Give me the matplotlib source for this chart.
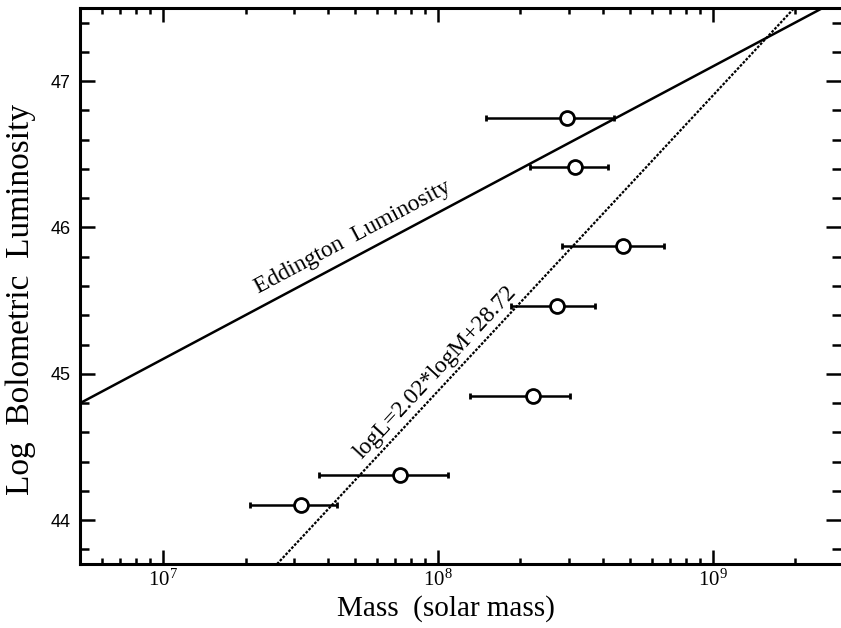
import numpy as np
import matplotlib
matplotlib.use("Agg")
import matplotlib.pyplot as plt
from matplotlib.ticker import LogLocator, MultipleLocator, NullFormatter

plt.rcParams['font.family'] = ['Liberation Serif', 'DejaVu Serif']
plt.rcParams['mathtext.fontset'] = 'stix'

# black hole mass (solar mass) with error-bar ends, and log bolometric luminosity
mass = [3.18e7, 7.30e7, 2.22e8, 2.72e8, 4.73e8, 3.17e8, 2.96e8]
mass_lo = [2.08e7, 3.70e7, 1.31e8, 1.84e8, 2.83e8, 2.16e8, 1.50e8]
mass_hi = [4.30e7, 1.09e8, 3.04e8, 3.72e8, 6.65e8, 4.17e8, 4.37e8]
log_lum = [44.10, 44.31, 44.85, 45.46, 45.87, 46.41, 46.75]

# lines
edd_const = 38.1          # log L_Edd = log M + 38.1
fit_slope, fit_icpt = 2.02, 28.72

xlim = (5e6, 2.93e9)
ylim = (43.7, 47.5)

fig = plt.figure(figsize=(8.41, 6.28), dpi=100)
ax = fig.add_axes([80 / 841, 64 / 628, 761 / 841, 556 / 628])
ax.set_xscale('log')
ax.set_xlim(*xlim)
ax.set_ylim(*ylim)

m = np.array(mass)
xerr = np.array([m - np.array(mass_lo), np.array(mass_hi) - m])
ax.errorbar(m, log_lum, xerr=xerr, fmt='o', ms=10, mfc='white', mec='black',
            mew=2.0, ecolor='black', elinewidth=1.8, capsize=2, capthick=1.8,
            zorder=3)

lm = np.linspace(np.log10(xlim[0]), np.log10(xlim[1]), 200)
ax.plot(10 ** lm, lm + edd_const, color='black', lw=1.8, zorder=2)
ax.plot(10 ** lm, fit_slope * lm + fit_icpt, color='black', lw=1.6,
        linestyle=(0, (1.2, 0.7)), zorder=2)


def screen_angle(slope):
    p0 = ax.transData.transform((1e8, 45.0))
    p1 = ax.transData.transform((1e9, 45.0 + slope))
    return np.degrees(np.arctan2(p1[1] - p0[1], p1[0] - p0[0]))


ax.text(10 ** 7.692, 45.93, 'Eddington  Luminosity', fontsize=17,
        rotation=screen_angle(1.0), rotation_mode='anchor',
        ha='center', va='center')
ax.text(10 ** 7.99, 45.01, 'logL=2.02*logM+28.72', fontsize=17,
        rotation=screen_angle(fit_slope), rotation_mode='anchor',
        ha='center', va='center')

ax.xaxis.set_major_locator(LogLocator(base=10, numticks=10))
ax.xaxis.set_minor_locator(LogLocator(base=10, subs=np.arange(2, 10), numticks=20))
ax.xaxis.set_minor_formatter(NullFormatter())
ax.yaxis.set_major_locator(MultipleLocator(1))
ax.yaxis.set_minor_locator(MultipleLocator(0.2))

ax.tick_params(which='both', direction='in', top=True, right=True,
               width=1.8, color='black')
ax.tick_params(axis='x', which='major', length=10, pad=4, labelsize=15)
ax.tick_params(axis='x', which='minor', length=4.5)
ax.tick_params(axis='y', which='major', length=11, pad=7, labelsize=13)
ax.tick_params(axis='y', which='minor', length=6.5)
for lab in ax.get_yticklabels():
    lab.set_family(['Liberation Sans Narrow', 'Liberation Sans', 'DejaVu Sans'])

for sp in ax.spines.values():
    sp.set_linewidth(2.2)
ax.spines['right'].set_visible(False)

ax.set_xlabel('Mass  (solar mass)', fontsize=21)
ax.xaxis.set_label_coords(0.481, -0.055)
ax.set_ylabel('Log  Bolometric  Luminosity', fontsize=24)
ax.yaxis.set_label_coords(-0.058, 0.475)

fig.savefig('out.png', dpi=100)
